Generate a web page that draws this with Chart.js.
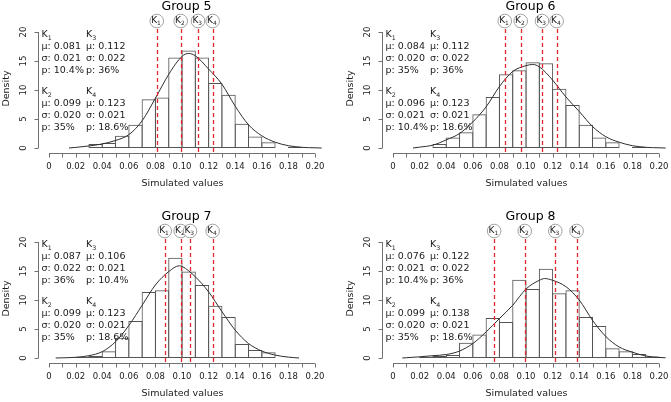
<!DOCTYPE html>
<html>
<head>
<meta charset="utf-8">
<script src="https://cdn.jsdelivr.net/npm/chart.js@4.4.0/dist/chart.umd.min.js"></script>
<style>
  body { margin: 0; background: #fff; width: 671px; height: 402px; position: relative; overflow: hidden; }
  .panel { position: absolute; width: 327px; height: 192px; }
</style>
</head>
<body>
<div class="panel" style="left:0;top:0"><canvas id="g5" width="327" height="192"></canvas></div>
<div class="panel" style="left:344px;top:0"><canvas id="g6" width="327" height="192"></canvas></div>
<div class="panel" style="left:0;top:210px"><canvas id="g7" width="327" height="192"></canvas></div>
<div class="panel" style="left:344px;top:210px"><canvas id="g8" width="327" height="192"></canvas></div>
<script>
const groupNames = ['Group 5', 'Group 6', 'Group 7', 'Group 8'];
const canvasIds = ['g5', 'g6', 'g7', 'g8'];

// histogram bins (left edges), width 0.01
const binStarts = [0.02, 0.03, 0.04, 0.05, 0.06, 0.07, 0.08, 0.09, 0.10,
                   0.11, 0.12, 0.13, 0.14, 0.15, 0.16, 0.17, 0.18, 0.19];
const binWidth = 0.01;

const hist5 = [null, 0.7, 0.85, 2.1, 4.0, 8.4, 8.7, 15.6, 16.8, 15.6, 11.2, 9.2, 4.2, 2.0, 1.0, 0, 0.2, null];
const hist6 = [null, 0.7, 1.8, 2.7, 5.8, 8.8, 12.7, 13.4, 14.8, 14.6, 10.2, 7.4, 4.0, 1.8, 1.0, 0, 0.2, null];
const hist7 = [0.2, 0.35, 1.15, 3.5, 6.4, 11.4, 11.7, 17.3, 14.9, 12.6, 9.0, 7.05, 2.4, 1.4, 1.0, null, null, null];
const hist8 = [0.2, 0.35, 0.5, 2.65, 4.05, 6.9, 6.2, 13.5, 11.9, 15.4, 11.15, 11.7, 7.05, 5.5, 1.7, 1.15, 0.7, 0.25];

// density curves
const curveX5 = [0.015, 0.02, 0.03, 0.04, 0.05, 0.06, 0.07, 0.08, 0.09, 0.10, 0.105, 0.11, 0.12, 0.13, 0.14, 0.15, 0.16, 0.17, 0.18, 0.19, 0.20, 0.205];
const curveY5 = [0, 0.1, 0.35, 0.7, 1.3, 2.3, 4.7, 8.6, 12.7, 15.8, 16.3, 15.9, 13.6, 11.0, 7.2, 4.0, 2.1, 1.0, 0.4, 0.12, 0.03, 0];
const curveX6 = [0.015, 0.02, 0.03, 0.04, 0.05, 0.06, 0.07, 0.08, 0.09, 0.10, 0.105, 0.11, 0.12, 0.13, 0.14, 0.15, 0.16, 0.17, 0.18, 0.19, 0.20, 0.205];
const curveY6 = [0, 0.15, 0.5, 1.4, 2.5, 4.5, 7.1, 10.6, 13.2, 14.2, 14.4, 14.0, 11.7, 8.8, 6.3, 3.7, 1.95, 1.0, 0.4, 0.12, 0.03, 0];
const curveX7 = [0.005, 0.01, 0.02, 0.03, 0.04, 0.05, 0.06, 0.07, 0.08, 0.09, 0.098, 0.10, 0.11, 0.12, 0.13, 0.14, 0.15, 0.16, 0.17, 0.18, 0.188];
const curveY7 = [0, 0.03, 0.12, 0.4, 1.1, 2.8, 5.6, 9.1, 12.6, 14.9, 15.9, 15.8, 14.0, 11.4, 8.0, 4.8, 2.5, 1.2, 0.5, 0.15, 0];
const curveX8 = [0.007, 0.01, 0.02, 0.03, 0.04, 0.05, 0.06, 0.07, 0.08, 0.09, 0.10, 0.11, 0.114, 0.12, 0.13, 0.14, 0.15, 0.16, 0.17, 0.18, 0.19, 0.20, 0.205];
const curveY8 = [0, 0.05, 0.2, 0.4, 0.6, 1.2, 2.5, 4.5, 6.8, 9.1, 11.9, 13.4, 13.7, 13.4, 12.3, 10.0, 6.5, 3.7, 1.9, 1.0, 0.35, 0.1, 0.03];

// cluster summaries K1..K4
const mu5 = [0.081, 0.099, 0.112, 0.123];
const sd5 = [0.021, 0.020, 0.022, 0.021];
const pct5 = ['10.4%', '35%', '36%', '18.6%'];
const mu6 = [0.084, 0.096, 0.112, 0.123];
const sd6 = [0.020, 0.021, 0.022, 0.021];
const pct6 = ['35%', '10.4%', '36%', '18.6%'];
const mu7 = [0.087, 0.099, 0.106, 0.123];
const sd7 = [0.022, 0.020, 0.021, 0.021];
const pct7 = ['36%', '35%', '10.4%', '18.6%'];
const mu8 = [0.076, 0.099, 0.122, 0.138];
const sd8 = [0.021, 0.020, 0.022, 0.021];
const pct8 = ['10.4%', '35%', '36%', '18.6%'];

// axes
const xTicks = [0, 0.01, 0.02, 0.03, 0.04, 0.05, 0.06, 0.07, 0.08, 0.09, 0.10,
                0.11, 0.12, 0.13, 0.14, 0.15, 0.16, 0.17, 0.18, 0.19, 0.20];
const xLabelAt = [0, 0.02, 0.04, 0.06, 0.08, 0.10, 0.12, 0.14, 0.16, 0.18, 0.20];
const xLabels = ['0', '0.02', '0.04', '0.06', '0.08', '0.10', '0.12', '0.14', '0.16', '0.18', '0.20'];
const yTicks = [0, 5, 10, 15, 20];
const xTitle = 'Simulated values';
const yTitle = 'Density';

const groups = [
  { name: groupNames[0], hist: hist5, cx: curveX5, cy: curveY5, mu: mu5, sd: sd5, pct: pct5 },
  { name: groupNames[1], hist: hist6, cx: curveX6, cy: curveY6, mu: mu6, sd: sd6, pct: pct6 },
  { name: groupNames[2], hist: hist7, cx: curveX7, cy: curveY7, mu: mu7, sd: sd7, pct: pct7 },
  { name: groupNames[3], hist: hist8, cx: curveX8, cy: curveY8, mu: mu8, sd: sd8, pct: pct8 }
];

const FONT = "'DejaVu Sans', sans-serif";

// K with a subscript number
function drawK(ctx, x, y, n, size) {
    ctx.font = size + 'px ' + FONT;
    ctx.fillText('K', x, y);
    const w = ctx.measureText('K').width;
    ctx.font = (size * 0.66).toFixed(1) + 'px ' + FONT;
    ctx.fillText(String(n), x + w, y + size * 0.32);
}

function rPanel(g) {
    return {
        id: 'rPanel',
        afterDatasetsDraw(chart) {
            const { ctx, chartArea: a, scales: { x, y } } = chart;
            const mid = (a.left + a.right) / 2;
            ctx.save();

            // red dashed lines at the cluster means
            ctx.strokeStyle = '#e3262b';
            ctx.lineWidth = 1.3;
            ctx.setLineDash([4, 3]);
            g.mu.forEach(m => {
                const px = Math.round(x.getPixelForValue(m)) + 0.5;
                ctx.beginPath();
                ctx.moveTo(px, a.bottom - 1);
                ctx.lineTo(px, a.top + 3);
                ctx.stroke();
            });
            ctx.setLineDash([]);

            // circled labels above the lines
            g.mu.forEach((m, k) => {
                const px = x.getPixelForValue(m);
                const cy = a.top - 3;
                ctx.beginPath();
                ctx.arc(px, cy, 6.8, 0, Math.PI * 2);
                ctx.fillStyle = '#fff';
                ctx.fill();
                ctx.strokeStyle = '#8c8c8c';
                ctx.lineWidth = 0.8;
                ctx.stroke();
                ctx.fillStyle = '#1a1a1a';
                ctx.textAlign = 'left';
                ctx.textBaseline = 'middle';
                drawK(ctx, px - 5.6, cy - 0.5, k + 1, 9);
            });

            // axes, R style
            ctx.strokeStyle = '#707070';
            ctx.lineWidth = 1;
            const xb = a.bottom + 0.5;
            ctx.beginPath();
            ctx.moveTo(x.getPixelForValue(xTicks[0]), xb);
            ctx.lineTo(x.getPixelForValue(xTicks[xTicks.length - 1]), xb);
            xTicks.forEach(v => {
                const px = Math.round(x.getPixelForValue(v)) + 0.5;
                ctx.moveTo(px, xb);
                ctx.lineTo(px, xb + 4);
            });
            const yl = a.left + 0.5;
            ctx.moveTo(yl, y.getPixelForValue(yTicks[0]));
            ctx.lineTo(yl, y.getPixelForValue(yTicks[yTicks.length - 1]));
            yTicks.forEach(v => {
                const py = Math.round(y.getPixelForValue(v)) + 0.5;
                ctx.moveTo(yl, py);
                ctx.lineTo(yl - 4, py);
            });
            ctx.stroke();

            ctx.fillStyle = '#1a1a1a';
            ctx.font = '8.5px ' + FONT;
            ctx.textAlign = 'center';
            ctx.textBaseline = 'middle';
            xLabelAt.forEach((v, i) => {
                ctx.fillText(xLabels[i], x.getPixelForValue(v), a.bottom + 14);
            });
            yTicks.forEach(v => {
                ctx.save();
                ctx.translate(a.left - 14, y.getPixelForValue(v));
                ctx.rotate(-Math.PI / 2);
                ctx.fillText(String(v), 0, 0);
                ctx.restore();
            });

            // axis titles and panel title
            ctx.font = '9.5px ' + FONT;
            ctx.fillText(xTitle, mid + 1, a.bottom + 31);
            ctx.save();
            ctx.translate(7, (a.top + a.bottom) / 2);
            ctx.rotate(-Math.PI / 2);
            ctx.fillText(yTitle, 0, 0);
            ctx.restore();
            ctx.fillStyle = '#000';
            ctx.font = '12.5px ' + FONT;
            ctx.fillText(g.name, mid + 5, 7);

            // summary text blocks: K1,K2 left, K3,K4 right
            ctx.fillStyle = '#1a1a1a';
            ctx.textAlign = 'left';
            const lh = 11.8;
            g.mu.forEach((m, k) => {
                const tx = k < 2 ? a.left + 3.5 : a.left + 48;
                const ty = a.top + 11 + (k % 2) * 57;
                drawK(ctx, tx, ty, k + 1, 9.5);
                ctx.font = '9.5px ' + FONT;
                ctx.fillText('\u03bc: ' + m.toFixed(3), tx, ty + lh);
                ctx.fillText('\u03c3: ' + g.sd[k].toFixed(3), tx, ty + lh * 2);
                ctx.fillText('p: ' + g.pct[k], tx, ty + lh * 3);
            });
            ctx.restore();
        }
    };
}

groups.forEach((g, i) => {
    new Chart(document.getElementById(canvasIds[i]), {
        type: 'bar',
        data: {
            datasets: [
                {
                    type: 'line',
                    order: 0,
                    data: g.cx.map((v, j) => ({ x: v, y: g.cy[j] })),
                    borderColor: '#2e2e2e',
                    borderWidth: 1,
                    pointRadius: 0,
                    cubicInterpolationMode: 'monotone',
                    fill: false
                },
                {
                    type: 'bar',
                    order: 1,
                    data: binStarts.map((b, j) => ({ x: b + binWidth / 2, y: g.hist[j] })),
                    backgroundColor: 'rgba(255,255,255,0)',
                    borderColor: '#555',
                    borderWidth: 1,
                    borderSkipped: false,
                    barPercentage: 1.075,
                    categoryPercentage: 1
                }
            ]
        },
        options: {
            responsive: false,
            animation: false,
            events: [],
            layout: { padding: { left: 38, right: 2, top: 24, bottom: 39 } },
            plugins: { legend: { display: false }, tooltip: { enabled: false } },
            scales: {
                x: {
                    type: 'linear', min: -0.0083, max: 0.2075, offset: false, display: false,
                    afterBuildTicks: s => { s.ticks = xTicks.map(v => ({ value: v })); }
                },
                y: { type: 'linear', min: -0.862, max: 21.38, display: false }
            }
        },
        plugins: [rPanel(g)]
    });
});
</script>
</body>
</html>
